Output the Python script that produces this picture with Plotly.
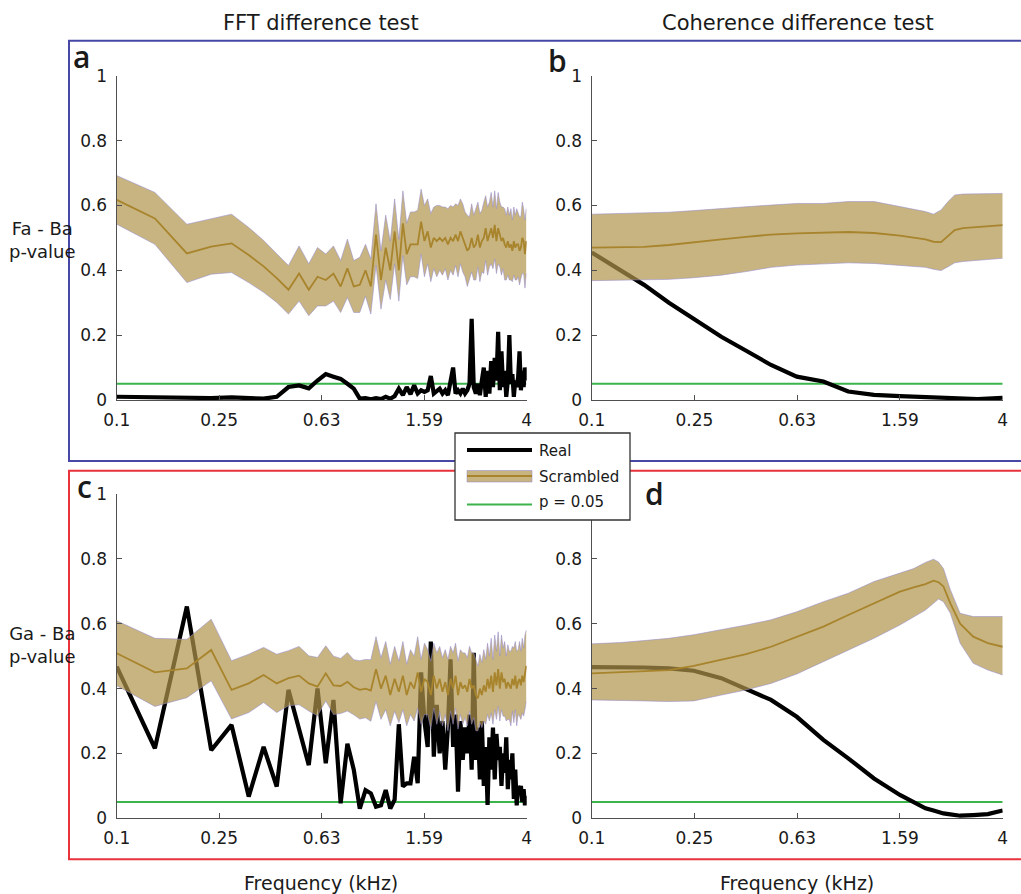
import math
import plotly.graph_objects as go

W, H = 1021, 894

# ---------------- data ----------------
# FFT frequency bins (kHz), panels a and c
FFT_FREQ = [0.1, 0.141, 0.188, 0.234, 0.281, 0.328, 0.375, 0.422, 0.469, 0.516,
            0.563, 0.609, 0.656, 0.703, 0.750, 0.797, 0.844, 0.891, 0.938, 0.984,
            1.031, 1.078, 1.125, 1.172, 1.219, 1.266, 1.313, 1.359, 1.406, 1.453,
            1.500, 1.547, 1.594, 1.641, 1.688, 1.734, 1.781, 1.828, 1.875, 1.922,
            1.969, 2.016, 2.063, 2.109, 2.156, 2.203, 2.250, 2.297, 2.344, 2.391,
            2.438, 2.484, 2.531, 2.578, 2.625, 2.672, 2.719, 2.766, 2.813, 2.859,
            2.906, 2.953, 3.000, 3.047, 3.094, 3.141, 3.188, 3.234, 3.281, 3.328,
            3.375, 3.422, 3.469, 3.516, 3.563, 3.609, 3.656, 3.703, 3.750, 3.797,
            3.844, 3.891, 3.938, 3.984]

A_REAL = [0.010, 0.008, 0.006, 0.006, 0.008, 0.006, 0.004, 0.010, 0.040, 0.045,
          0.036, 0.060, 0.080, 0.072, 0.065, 0.050, 0.035, 0.004, 0.006, 0.002,
          0.006, 0.003, 0.010, 0.004, 0.012, 0.035, 0.015, 0.040, 0.018, 0.045,
          0.020, 0.030, 0.025, 0.030, 0.074, 0.020, 0.030, 0.035, 0.020, 0.030,
          0.015, 0.060, 0.100, 0.020, 0.030, 0.020, 0.035, 0.020, 0.030, 0.050,
          0.250, 0.040, 0.020, 0.050, 0.015, 0.060, 0.100, 0.010, 0.090, 0.020,
          0.120, 0.040, 0.130, 0.060, 0.210, 0.030, 0.150, 0.040, 0.090, 0.010,
          0.060, 0.200, 0.050, 0.080, 0.010, 0.060, 0.040, 0.070, 0.150, 0.030,
          0.090, 0.040, 0.100, 0.060]

A_MEAN = [0.617, 0.560, 0.452, 0.473, 0.483, 0.447, 0.412, 0.376, 0.340, 0.390,
          0.340, 0.380, 0.370, 0.390, 0.350, 0.406, 0.350, 0.355, 0.400, 0.350,
          0.510, 0.370, 0.470, 0.400, 0.520, 0.400, 0.545, 0.450, 0.480, 0.480,
          0.480, 0.550, 0.490, 0.520, 0.470, 0.500, 0.490, 0.500, 0.490, 0.500,
          0.480, 0.500, 0.490, 0.510, 0.490, 0.520, 0.500, 0.480, 0.460, 0.470,
          0.500, 0.470, 0.480, 0.510, 0.470, 0.490, 0.500, 0.530, 0.490, 0.510,
          0.530, 0.500, 0.540, 0.490, 0.530, 0.510, 0.490, 0.500, 0.480, 0.470,
          0.490, 0.470, 0.480, 0.460, 0.490, 0.470, 0.480, 0.480, 0.460, 0.470,
          0.500, 0.490, 0.450, 0.490]

A_SPREAD = [0.075, 0.080, 0.090, 0.085, 0.090, 0.085, 0.080, 0.075, 0.075, 0.085,
            0.080, 0.090, 0.080, 0.085, 0.080, 0.090, 0.080, 0.085, 0.080, 0.085,
            0.095, 0.090, 0.100, 0.090, 0.100, 0.095, 0.100, 0.095, 0.100, 0.100,
            0.105, 0.100, 0.110, 0.100, 0.105, 0.095, 0.110, 0.100, 0.105, 0.095,
            0.110, 0.100, 0.105, 0.095, 0.110, 0.100, 0.105, 0.100, 0.110, 0.095,
            0.105, 0.100, 0.110, 0.100, 0.105, 0.095, 0.110, 0.100, 0.105, 0.100,
            0.110, 0.095, 0.105, 0.100, 0.110, 0.100, 0.105, 0.095, 0.110, 0.100,
            0.105, 0.100, 0.110, 0.095, 0.105, 0.100, 0.110, 0.100, 0.105, 0.095,
            0.110, 0.100, 0.105, 0.100]

C_REAL = [0.468, 0.216, 0.653, 0.210, 0.288, 0.067, 0.220, 0.098, 0.396, 0.280,
          0.164, 0.400, 0.170, 0.365, 0.046, 0.230, 0.150, 0.030, 0.087, 0.077,
          0.036, 0.040, 0.087, 0.030, 0.057, 0.290, 0.098, 0.108, 0.108, 0.190,
          0.108, 0.450, 0.300, 0.220, 0.545, 0.190, 0.350, 0.200, 0.300, 0.150,
          0.280, 0.490, 0.220, 0.320, 0.082, 0.300, 0.180, 0.280, 0.200, 0.320,
          0.150, 0.510, 0.180, 0.280, 0.120, 0.300, 0.100, 0.220, 0.041, 0.250,
          0.150, 0.280, 0.120, 0.260, 0.180, 0.220, 0.100, 0.200, 0.140, 0.250,
          0.090, 0.180, 0.120, 0.200, 0.060, 0.150, 0.040, 0.100, 0.080, 0.100,
          0.050, 0.090, 0.040, 0.070]

C_MEAN = [0.509, 0.450, 0.462, 0.519, 0.396, 0.416, 0.442, 0.416, 0.432, 0.440,
          0.416, 0.406, 0.447, 0.410, 0.408, 0.421, 0.404, 0.396, 0.400, 0.394,
          0.460, 0.400, 0.440, 0.380, 0.430, 0.390, 0.440, 0.380, 0.420, 0.400,
          0.450, 0.390, 0.430, 0.420, 0.380, 0.440, 0.400, 0.430, 0.390, 0.420,
          0.380, 0.430, 0.400, 0.440, 0.380, 0.420, 0.400, 0.410, 0.390, 0.430,
          0.400, 0.410, 0.380, 0.370, 0.400, 0.380, 0.410, 0.390, 0.430, 0.400,
          0.440, 0.390, 0.450, 0.410, 0.460, 0.400, 0.450, 0.420, 0.430, 0.400,
          0.420, 0.410, 0.400, 0.430, 0.410, 0.440, 0.400, 0.420, 0.430, 0.410,
          0.440, 0.420, 0.450, 0.470]

C_SPREAD = [0.100, 0.105, 0.090, 0.095, 0.090, 0.090, 0.085, 0.090, 0.085, 0.090,
            0.085, 0.090, 0.085, 0.090, 0.085, 0.090, 0.085, 0.090, 0.090, 0.095,
            0.100, 0.095, 0.105, 0.095, 0.100, 0.095, 0.105, 0.095, 0.100, 0.100,
            0.110, 0.100, 0.110, 0.100, 0.105, 0.100, 0.110, 0.100, 0.105, 0.100,
            0.110, 0.100, 0.110, 0.100, 0.105, 0.100, 0.110, 0.100, 0.105, 0.100,
            0.110, 0.100, 0.110, 0.100, 0.105, 0.100, 0.110, 0.100, 0.110, 0.100,
            0.115, 0.100, 0.115, 0.105, 0.115, 0.100, 0.115, 0.105, 0.115, 0.100,
            0.115, 0.105, 0.115, 0.100, 0.115, 0.105, 0.115, 0.100, 0.115, 0.105,
            0.115, 0.105, 0.115, 0.110]

# Coherence panels (b, d)
B_FREQ = [0.1, 0.13, 0.16, 0.2, 0.25, 0.32, 0.4, 0.5, 0.63, 0.8, 1.0,
          1.26, 1.59, 2.0, 2.15, 2.3, 2.45, 2.6, 2.8, 3.2, 4.0]
B_REAL = [0.455, 0.400, 0.355, 0.300, 0.249, 0.195, 0.152, 0.108, 0.072, 0.057, 0.026,
          0.016, 0.012, 0.008, 0.007, 0.006, 0.005, 0.004, 0.004, 0.003, 0.007]
B_MEAN = [0.470, 0.471, 0.472, 0.478, 0.485, 0.495, 0.503, 0.510, 0.514, 0.515, 0.518,
          0.515, 0.507, 0.495, 0.488, 0.487, 0.505, 0.524, 0.530, 0.534, 0.539]
B_HI = [0.573, 0.575, 0.577, 0.579, 0.584, 0.591, 0.596, 0.601, 0.606, 0.606, 0.612,
        0.612, 0.596, 0.581, 0.573, 0.586, 0.612, 0.632, 0.635, 0.635, 0.637]
B_LO = [0.368, 0.369, 0.370, 0.372, 0.377, 0.385, 0.396, 0.409, 0.416, 0.419, 0.423,
        0.421, 0.416, 0.409, 0.403, 0.399, 0.411, 0.423, 0.427, 0.430, 0.437]

D_FREQ = [0.1, 0.13, 0.16, 0.2, 0.25, 0.32, 0.4, 0.5, 0.63, 0.8, 1.0, 1.26,
          1.59, 1.8, 2.0, 2.15, 2.25, 2.35, 2.5, 2.73, 3.07, 3.5, 4.0]
D_REAL = [0.466, 0.466, 0.465, 0.462, 0.455, 0.432, 0.400, 0.365, 0.313, 0.242, 0.185, 0.123,
          0.072, 0.050, 0.031, 0.024, 0.019, 0.015, 0.012, 0.008, 0.010, 0.013, 0.024]
D_MEAN = [0.447, 0.450, 0.453, 0.457, 0.470, 0.488, 0.506, 0.529, 0.560, 0.591, 0.627, 0.663,
          0.699, 0.712, 0.722, 0.733, 0.728, 0.715, 0.663, 0.600, 0.560, 0.540, 0.529]
D_HI = [0.538, 0.542, 0.548, 0.555, 0.566, 0.581, 0.596, 0.612, 0.637, 0.668, 0.694, 0.730,
        0.755, 0.770, 0.789, 0.799, 0.790, 0.770, 0.705, 0.632, 0.622, 0.622, 0.622]
D_LO = [0.365, 0.364, 0.362, 0.360, 0.362, 0.380, 0.396, 0.416, 0.445, 0.483, 0.519, 0.555,
        0.596, 0.620, 0.642, 0.663, 0.676, 0.668, 0.632, 0.540, 0.478, 0.457, 0.442]

P_THRESHOLD = 0.05

X_TICKVALS = [0.1, 0.2515, 0.6325, 1.5905, 4.0]
X_TICKTEXT = ["0.1", "0.25", "0.63", "1.59", "4"]
Y_TICKVALS = [0, 0.2, 0.4, 0.6, 0.8, 1.0]
Y_TICKTEXT = ["0", "0.2", "0.4", "0.6", "0.8", "1"]
# in panel d the top label sits under the legend box
Y_TICKTEXT_D = ["0", "0.2", "0.4", "0.6", "0.8", ""]

# ---------------- styles ----------------
FONT = "DejaVu Sans"
TXT = "#1a1a1a"
AX = "#505050"
BAND_FILL = "rgba(176,148,76,0.70)"
BAND_EDGE = "rgba(150,140,205,0.55)"
MEAN_COL = "#a8842c"
GREEN = "#3cb44b"
BLUE_BOX = "#4747a6"
RED_BOX = "#e8323c"

fig = go.Figure()


def add_panel(xref, yref, freq, real, mean, lo, hi):
    xa = "x" if xref == 1 else f"x{xref}"
    ya = "y" if yref == 1 else f"y{yref}"
    fig.add_trace(go.Scatter(x=[freq[0], freq[-1]], y=[P_THRESHOLD, P_THRESHOLD], mode="lines",
                             line=dict(color=GREEN, width=2), xaxis=xa, yaxis=ya,
                             showlegend=False, hoverinfo="skip"))
    fig.add_trace(go.Scatter(x=freq, y=real, mode="lines",
                             line=dict(color="black", width=4.2), xaxis=xa, yaxis=ya,
                             showlegend=False))
    fig.add_trace(go.Scatter(x=freq, y=lo, mode="lines",
                             line=dict(color=BAND_EDGE, width=1), xaxis=xa, yaxis=ya,
                             showlegend=False, hoverinfo="skip"))
    fig.add_trace(go.Scatter(x=freq, y=hi, mode="lines", fill="tonexty", fillcolor=BAND_FILL,
                             line=dict(color=BAND_EDGE, width=1), xaxis=xa, yaxis=ya,
                             showlegend=False, hoverinfo="skip"))
    fig.add_trace(go.Scatter(x=freq, y=mean, mode="lines",
                             line=dict(color=MEAN_COL, width=1.8), xaxis=xa, yaxis=ya,
                             showlegend=False))


a_lo = [m - s for m, s in zip(A_MEAN, A_SPREAD)]
a_hi = [m + s for m, s in zip(A_MEAN, A_SPREAD)]
c_lo = [m - s for m, s in zip(C_MEAN, C_SPREAD)]
c_hi = [m + s for m, s in zip(C_MEAN, C_SPREAD)]

add_panel(1, 1, FFT_FREQ, A_REAL, A_MEAN, a_lo, a_hi)
add_panel(2, 2, B_FREQ, B_REAL, B_MEAN, B_LO, B_HI)
add_panel(3, 3, FFT_FREQ, C_REAL, C_MEAN, c_lo, c_hi)
add_panel(4, 4, D_FREQ, D_REAL, D_MEAN, D_LO, D_HI)

# ---------------- axes ----------------
def px_x(p):
    return p / W


def px_y(p):
    return 1 - p / H


XL = [px_x(116.7), px_x(526.7)]
XR = [px_x(591.7), px_x(1002.7)]
YT = [px_y(400), px_y(75.7)]
YB = [px_y(818.3), px_y(494)]

tickfont = dict(family=FONT, size=17, color=TXT)


def xaxis(domain, anchor):
    return dict(type="log", range=[-1, math.log10(4)], domain=domain, anchor=anchor,
                tickvals=X_TICKVALS, ticktext=X_TICKTEXT, ticks="inside", ticklen=5,
                tickcolor=AX, tickwidth=1, showline=True, linecolor=AX, linewidth=1.2,
                showgrid=False, zeroline=False, tickfont=tickfont, ticklabelstandoff=4,
                automargin=False)


def yaxis(domain, anchor, ticktext=Y_TICKTEXT):
    return dict(range=[0, 1], domain=domain, anchor=anchor,
                tickvals=Y_TICKVALS, ticktext=ticktext, ticks="inside", ticklen=5,
                tickcolor=AX, tickwidth=1, showline=True, linecolor=AX, linewidth=1.2,
                showgrid=False, zeroline=False, tickfont=tickfont, ticklabelstandoff=5,
                automargin=False)


fig.update_layout(
    template="none",
    width=W, height=H, autosize=False,
    margin=dict(l=0, r=0, t=0, b=0, pad=0, autoexpand=False),
    paper_bgcolor="white", plot_bgcolor="rgba(0,0,0,0)", showlegend=False,
    xaxis=xaxis(XL, "y"), yaxis=yaxis(YT, "x"),
    xaxis2=xaxis(XR, "y2"), yaxis2=yaxis(YT, "x2"),
    xaxis3=xaxis(XL, "y3"), yaxis3=yaxis(YB, "x3"),
    xaxis4=xaxis(XR, "y4"), yaxis4=yaxis(YB, "x4", Y_TICKTEXT_D),
)

# ---------------- frames, legend ----------------
shapes = [
    dict(type="rect", xref="paper", yref="paper", x0=px_x(69), x1=px_x(1026),
         y0=px_y(461), y1=px_y(40.7), line=dict(color=BLUE_BOX, width=2), layer="below"),
    dict(type="rect", xref="paper", yref="paper", x0=px_x(69), x1=px_x(1026),
         y0=px_y(859.3), y1=px_y(470.7), line=dict(color=RED_BOX, width=2), layer="below"),
    # legend box
    dict(type="rect", xref="paper", yref="paper", x0=px_x(455), x1=px_x(630),
         y0=px_y(520), y1=px_y(433), fillcolor="white", line=dict(color="#333333", width=1.3),
         layer="above"),
    dict(type="line", xref="paper", yref="paper", x0=px_x(467), x1=px_x(532),
         y0=px_y(450), y1=px_y(450), line=dict(color="black", width=4), layer="above"),
    dict(type="rect", xref="paper", yref="paper", x0=px_x(467), x1=px_x(532),
         y0=px_y(482), y1=px_y(470.5), fillcolor=BAND_FILL, line=dict(color=BAND_EDGE, width=1),
         layer="above"),
    dict(type="line", xref="paper", yref="paper", x0=px_x(467), x1=px_x(532),
         y0=px_y(476), y1=px_y(476), line=dict(color=MEAN_COL, width=1.8), layer="above"),
    dict(type="line", xref="paper", yref="paper", x0=px_x(467), x1=px_x(532),
         y0=px_y(504.5), y1=px_y(504.5), line=dict(color=GREEN, width=2), layer="above"),
]
fig.update_layout(shapes=shapes)


def ann(text, x, y, size, xanchor="center", yanchor="middle", family=FONT, weight=None, align="center"):
    f = dict(family=family, size=size, color=TXT)
    if weight:
        f["weight"] = weight
    return dict(text=text, x=px_x(x), y=px_y(y), xref="paper", yref="paper",
                showarrow=False, xanchor=xanchor, yanchor=yanchor, font=f, align=align)


annotations = [
    ann("FFT difference test", 321, 22.5, 21),
    ann("Coherence difference test", 797.5, 22.5, 21),
    ann("Frequency (kHz)", 321, 883, 19),
    ann("Frequency (kHz)", 797, 883, 19),
    ann("Fa - Ba<br>p-value", 42, 240, 18),
    ann("Ga - Ba<br>p-value", 42, 645, 18),
    ann("a", 81.5, 56, 30, family="Open Sans", weight=600),
    ann("b", 557, 60, 30, family="Open Sans", weight=600),
    ann("c", 84, 486, 30, family="Open Sans", weight=600),
    ann("d", 654, 493, 30, family="Open Sans", weight=600),
    ann("Real", 537, 451, 15, xanchor="left"),
    ann("Scrambled", 537, 477, 15, xanchor="left"),
    ann("p = 0.05", 537, 502, 15, xanchor="left"),
]
fig.update_layout(annotations=annotations)

fig.write_html(
    "out.html",
    config={"displayModeBar": False},
    post_script="document.body.style.margin='0';document.body.style.padding='0';"
                "document.documentElement.style.margin='0';document.body.style.overflow='hidden';",
)
